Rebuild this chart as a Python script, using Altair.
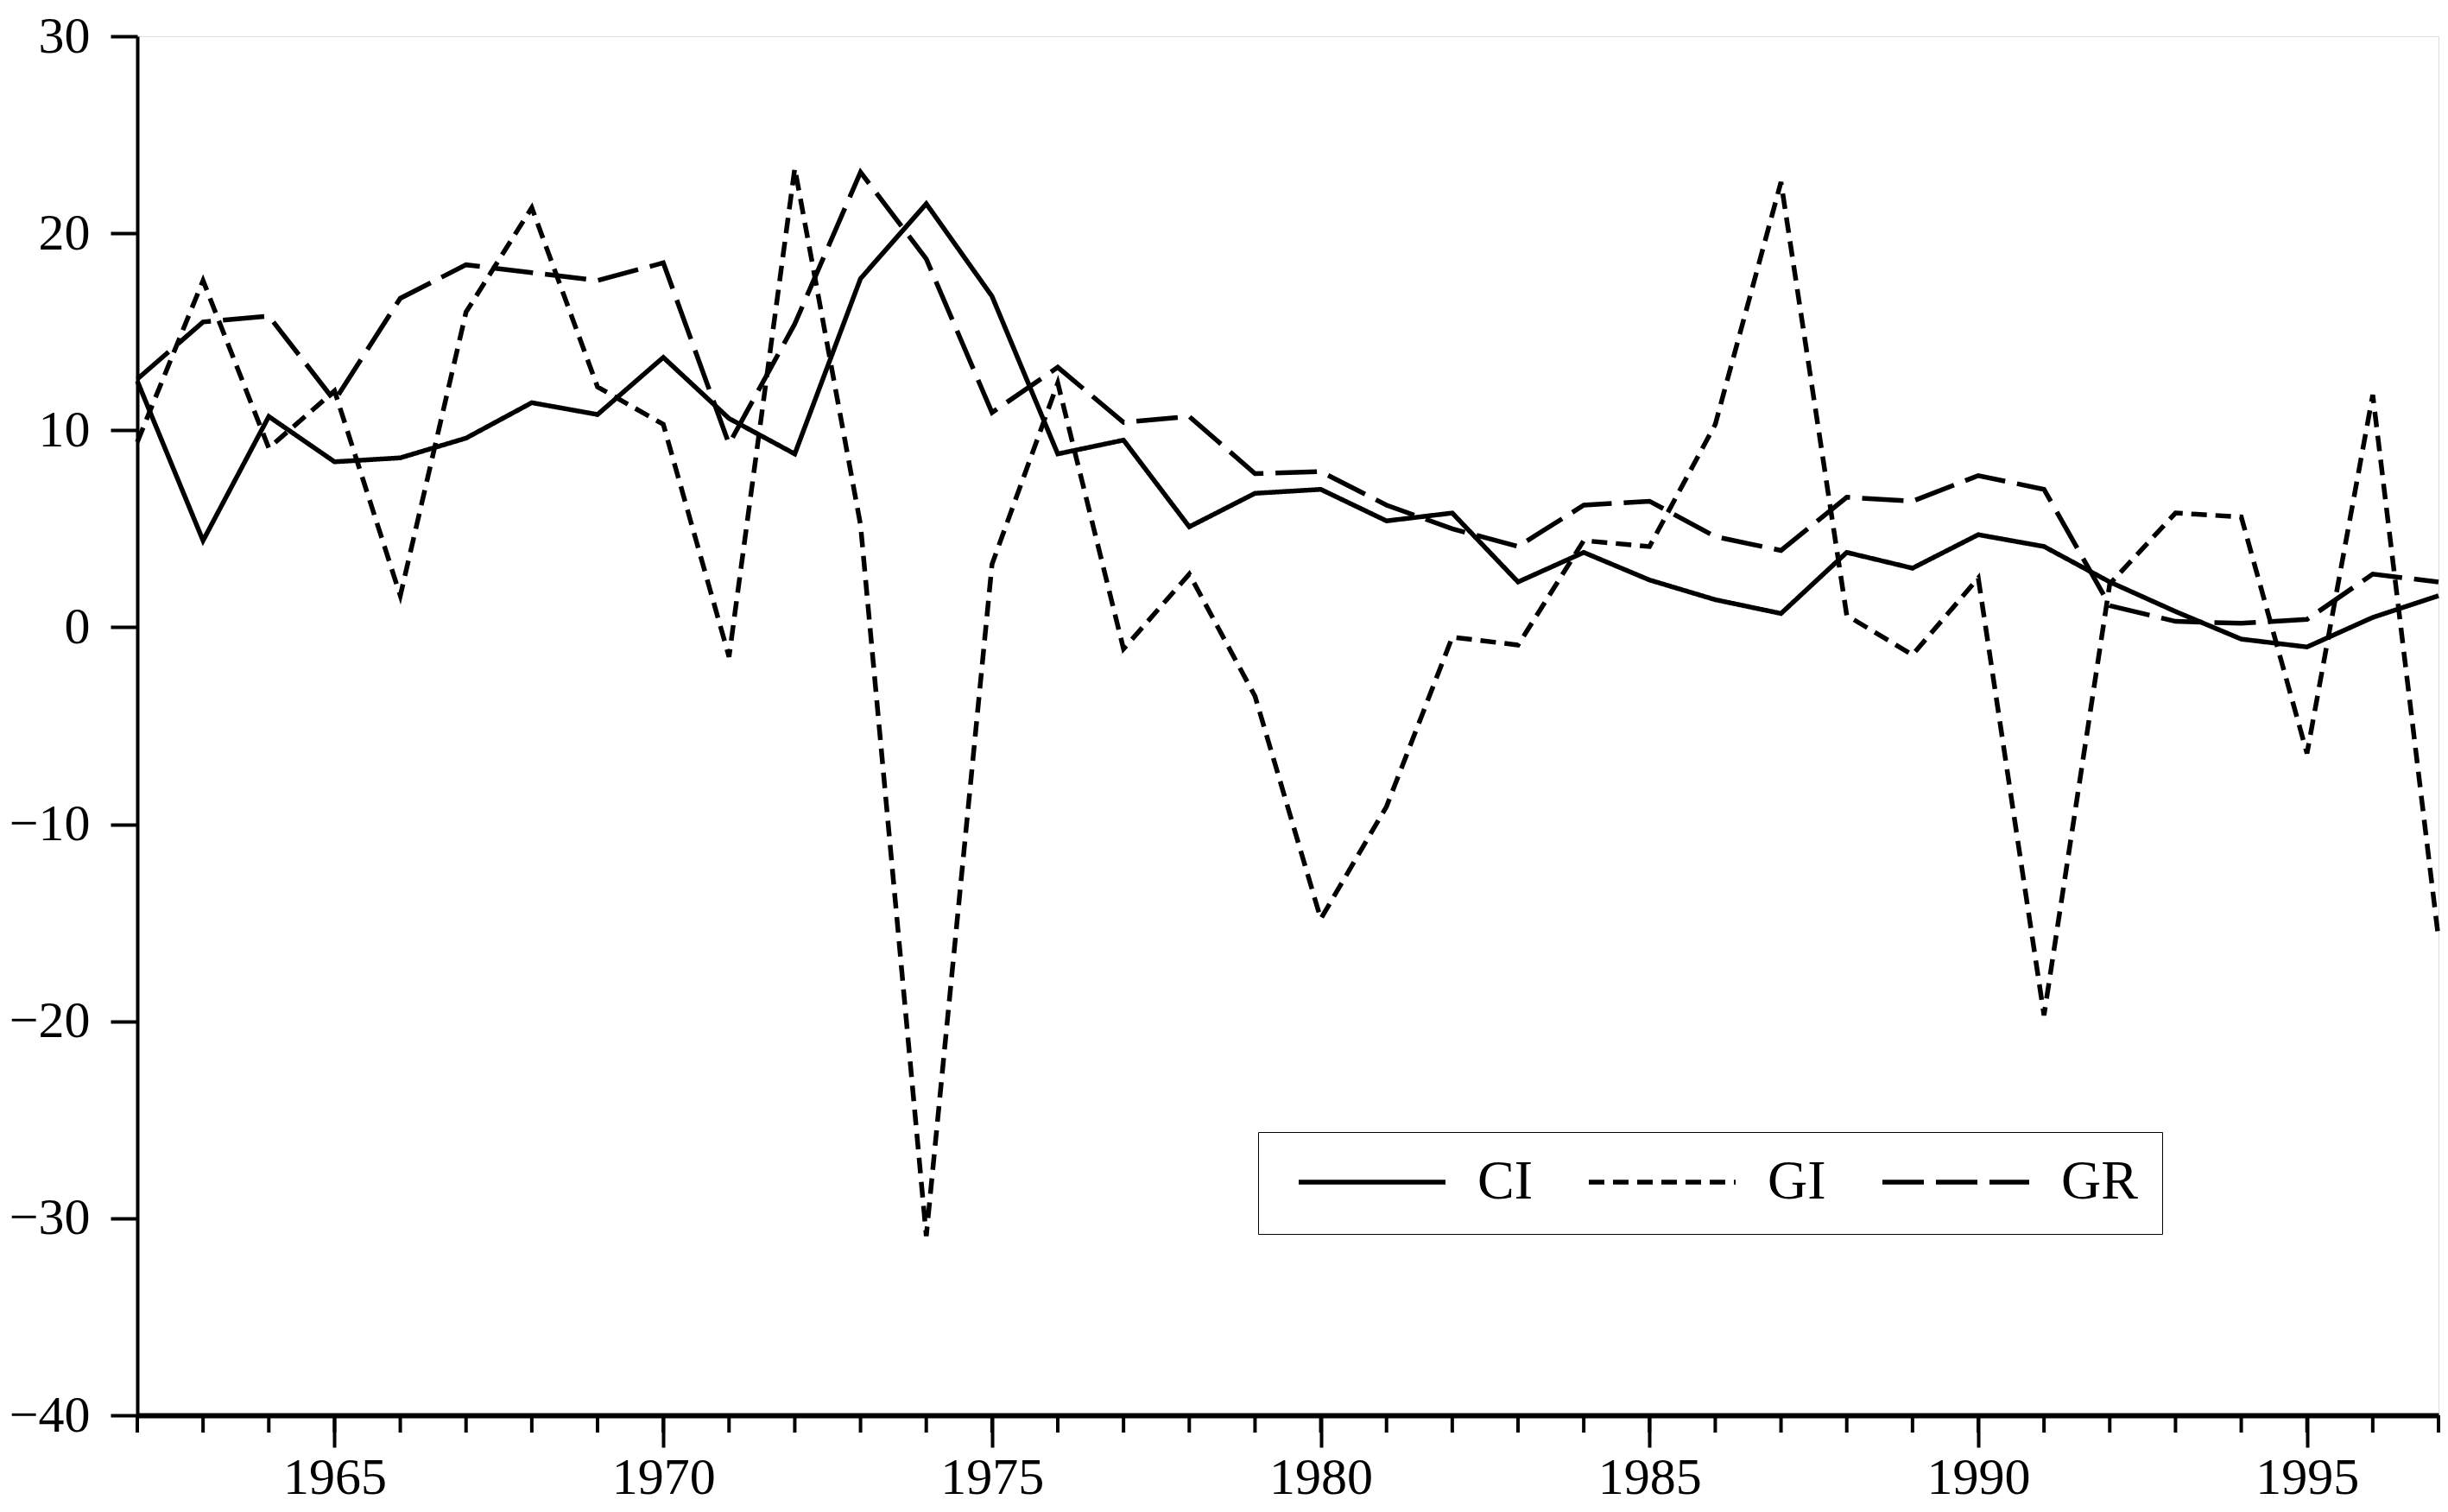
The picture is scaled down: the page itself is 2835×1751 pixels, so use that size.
import altair as alt
import pandas as pd

years = list(range(1962, 1998))
CI = [12.5, 4.4, 10.7, 8.4, 8.6, 9.6, 11.4, 10.8, 13.7, 10.6, 8.8, 17.7, 21.5, 16.8,
      8.8, 9.5, 5.1, 6.8, 7.0, 5.4, 5.8, 2.3, 3.8, 2.4, 1.4, 0.7, 3.8, 3.0, 4.7, 4.1,
      2.3, 0.8, -0.6, -1.0, 0.5, 1.6]
GI = [9.4, 17.6, 9.1, 12.0, 1.6, 16.0, 21.3, 12.2, 10.3, -1.5, 23.3, 5.2, -30.9, 3.2,
      12.4, -1.1, 2.7, -3.5, -14.8, -9.1, -0.5, -0.9, 4.4, 4.1, 10.3, 22.6, 0.6, -1.4,
      2.5, -19.7, 2.2, 5.8, 5.6, -6.4, 11.8, -15.8]
GR = [12.6, 15.5, 15.8, 11.5, 16.7, 18.4, 18.0, 17.6, 18.5, 9.3, 15.4, 23.1, 18.7, 10.9,
      13.2, 10.4, 10.7, 7.8, 7.9, 6.2, 5.0, 4.1, 6.2, 6.4, 4.6, 3.9, 6.6, 6.4, 7.7, 7.0,
      1.1, 0.3, 0.2, 0.4, 2.7, 2.3]
series_names = ["CI", "GI", "GR"]
major_years = [1965, 1970, 1975, 1980, 1985, 1990, 1995]
y_ticks = [-40, -30, -20, -10, 0, 10, 20, 30]

rows = []
for name, vals in zip(series_names, [CI, GI, GR]):
    for yr, v in zip(years, vals):
        rows.append({"year": yr, "value": v, "series": name})
df = pd.DataFrame(rows)
ticks_df = pd.DataFrame({"year": years})

W, H = 2665, 1597
FONT = "Liberation Serif"

xscale = alt.Scale(domain=[1962, 1997], nice=False, zero=False)
yscale = alt.Scale(domain=[-40, 30], nice=False)

lines = alt.Chart(df).mark_line(
    color="black", strokeWidth=5.5, strokeMiterLimit=4
).encode(
    x=alt.X("year:Q", scale=xscale,
            axis=alt.Axis(values=major_years, format="d", title=None, grid=False,
                          tickSize=37, tickWidth=4, domainWidth=6, domainColor="black",
                          tickColor="black", labelFont=FONT, labelFontSize=60,
                          labelColor="black", labelPadding=6)),
    y=alt.Y("value:Q", scale=yscale,
            axis=alt.Axis(values=y_ticks, title=None, grid=False, tickSize=31,
                          tickWidth=4, domainWidth=4, domainColor="black",
                          tickColor="black", labelFont=FONT, labelFontSize=60,
                          labelColor="black", labelPadding=24)),
    strokeDash=alt.StrokeDash(
        "series:N",
        scale=alt.Scale(domain=series_names, range=[[1, 0], [18, 10], [48, 14]]),
        legend=alt.Legend(
            title=None, orient="none", legendX=1298, legendY=1269,
            direction="horizontal", strokeColor="black", fillColor="white",
            padding=28, symbolType="stroke", symbolSize=28900, clipHeight=60,
            symbolStrokeWidth=5.5, symbolStrokeColor="black", symbolOffset=16,
            labelFont=FONT, labelFontSize=64, labelColor="black",
            labelOffset=34, columnPadding=46,
        ),
    ),
)

minor = alt.Chart(ticks_df).mark_rule(color="black", strokeWidth=4).encode(
    x=alt.X("year:Q", scale=xscale),
    y=alt.value(H),
    y2=alt.value(H + 20),
)

chart = alt.layer(lines, minor).properties(
    width=W, height=H,
    autosize=alt.AutoSizeParams(type="none"),
    padding={"left": 151, "top": 34, "right": 3, "bottom": 104},
).configure_view(stroke="black", strokeWidth=4).configure(background="white")

chart.save("out.html", embed_options={"renderer": "svg", "actions": False})
